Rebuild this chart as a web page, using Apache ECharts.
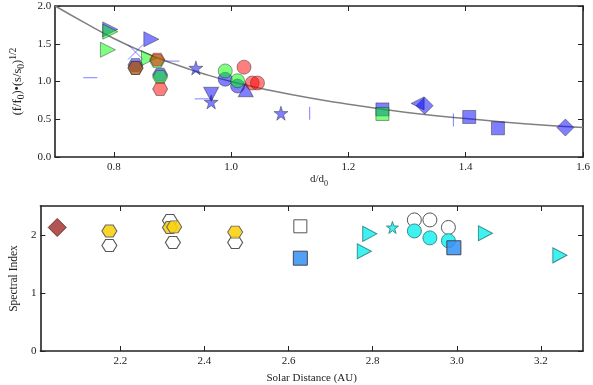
<!DOCTYPE html>
<html>
<head>
<meta charset="utf-8">
<script src="https://cdn.jsdelivr.net/npm/echarts@6/dist/echarts.min.js"></script>
<style>
  html, body { margin: 0; padding: 0; background: #fff; }
  #chart { width: 593px; height: 385px; }
</style>
</head>
<body>
<div id="chart"></div>
<script>
// top panel: normalised flux vs d/d0 (blue / green / red groups, half transparent)
var blueTriRight = [[0.794, 1.69], [0.864, 1.56]];
var blueCross = [[0.837, 1.39]];
var blueHex = [[0.837, 1.22], [0.879, 1.09]];
var blueHLine = [[0.76, 1.05], [0.90, 1.27], [0.95, 0.77]];
var blueStar = [[0.94, 1.18], [0.966, 0.73], [1.085, 0.58]];
var blueTriDown = [[0.966, 0.83]];
var blueCircle = [[0.99, 1.03], [1.011, 0.94]];
var blueTriUp = [[1.025, 0.89]];
var blueVLine = [[1.134, 0.58], [1.379, 0.49]];
var blueSquare = [[1.258, 0.63], [1.406, 0.53], [1.455, 0.38]];
var blueDiamond = [[1.33, 0.68], [1.57, 0.39]];
var blueTriLeft = [[1.318, 0.71]];

var greenTriRight = [[0.79, 1.42], [0.794, 1.66], [0.86, 1.31]];
var greenHex = [[0.874, 1.27], [0.837, 1.18], [0.879, 1.06]];
var greenCircle = [[0.99, 1.14], [1.011, 1.01]];
var greenSquare = [[1.258, 0.57]];

var redHex = [[0.874, 1.29], [0.837, 1.18], [0.879, 0.90]];
var redCircle = [[1.022, 1.19], [1.036, 0.98], [1.045, 0.98]];

// grey curve
var curveX = [0.70, 0.75, 0.80, 0.85, 0.90, 0.95, 1.00, 1.10, 1.20, 1.30, 1.40, 1.50, 1.60];
var curveY = [2.00, 1.78, 1.57, 1.39, 1.24, 1.11, 1.00, 0.83, 0.70, 0.59, 0.51, 0.44, 0.39];

// bottom panel: spectral index vs solar distance
var brownDiamond = [[2.05, 2.13]];
var openHex = [[2.174, 1.82], [2.318, 2.25], [2.325, 1.87], [2.473, 1.87]];
var yellowHex = [[2.174, 2.07], [2.318, 2.13], [2.328, 2.14], [2.473, 2.05]];
var openSquare = [[2.628, 2.15]];
var cyanTriRight = [[2.793, 2.02], [2.78, 1.72], [3.068, 2.03], [3.245, 1.65]];
var cyanStar = [[2.847, 2.13]];
var openCircle = [[2.899, 2.26], [2.936, 2.26], [2.98, 2.13]];
var cyanCircle = [[2.899, 2.07], [2.936, 1.95], [2.98, 1.90]];
var blueSquareB = [[2.628, 1.60], [2.993, 1.78]];

var topTicksX = [0.8, 1.0, 1.2, 1.4, 1.6];
var topTicksY = [0.0, 0.5, 1.0, 1.5, 2.0];
var botTicksX = [2.2, 2.4, 2.6, 2.8, 3.0, 3.2];
var botTicksY = [0, 1, 2];

var HEX = 'path://M0,50 L25,6 L75,6 L100,50 L75,94 L25,94 Z';
var STAR = 'path://M50,0 L61,35 L98,35 L68,57 L79,91 L50,70 L21,91 L32,57 L2,35 L39,35 Z';
var CROSS = 'path://M0,0 L100,100 M100,0 L0,100';

var BLUE = 'rgba(0,0,255,0.5)';
var GREEN = 'rgba(0,255,0,0.5)';
var RED = 'rgba(255,0,0,0.5)';
var EDGE = 'rgba(40,40,40,0.45)';
var FONT = 'Liberation Serif';

function sc(data, gi, sym, size, color, edge, rot, z) {
    return {
        type: 'scatter',
        xAxisIndex: gi * 2, yAxisIndex: gi * 2,
        data: data,
        symbol: sym,
        symbolSize: size,
        symbolRotate: rot || 0,
        z: z || 2,
        silent: true,
        itemStyle: { color: color, borderColor: edge, borderWidth: 1, opacity: 1 }
    };
}

function lbl(v, d) { return Number(v).toFixed(d); }

function nameStyle(fs) {
    return {
        fontFamily: FONT, fontSize: fs, color: '#222',
        rich: { sub: { fontFamily: FONT, fontSize: fs - 3, verticalAlign: 'bottom', color: '#222' },
                sup: { fontFamily: FONT, fontSize: fs - 3, verticalAlign: 'top', color: '#222' },
                n: { fontFamily: FONT, fontSize: fs, lineHeight: fs + 6, color: '#222' } }
    };
}

function axisX(gi, min, max, ticks, pos, show, dec, name, gap) {
    return {
        type: 'value', gridIndex: gi, min: min, max: max, position: pos,
        name: name || '', nameLocation: 'middle', nameGap: gap || 19,
        nameTextStyle: nameStyle(11),
        axisLine: { show: true, onZero: false, lineStyle: { color: '#222', width: 1.6 } },
        axisTick: { show: true, inside: true, length: 5, customValues: ticks, lineStyle: { color: '#222' } },
        axisLabel: { show: show, margin: 5, customValues: ticks, fontFamily: FONT, fontSize: 11, color: '#222',
                     formatter: function (v) { return lbl(v, dec); } },
        splitLine: { show: false }
    };
}

function axisY(gi, min, max, ticks, pos, show, dec, name, gap, fs) {
    return {
        type: 'value', gridIndex: gi, min: min, max: max, position: pos,
        name: name || '', nameLocation: 'middle', nameGap: gap || 20,
        nameTextStyle: nameStyle(fs || 11),
        axisLine: { show: true, onZero: false, lineStyle: { color: '#222', width: 1.6 } },
        axisTick: { show: true, inside: true, length: 5, customValues: ticks, lineStyle: { color: '#222' } },
        axisLabel: { show: show, margin: 4, customValues: ticks, fontFamily: FONT, fontSize: 11, color: '#222',
                     formatter: function (v) { return dec < 0 ? String(v) : lbl(v, dec); } },
        splitLine: { show: false }
    };
}

var curve = curveX.map(function (x, i) { return [x, curveY[i]]; });

var option = {
    animation: false,
    backgroundColor: '#fff',
    grid: [
        { left: 35, top: 6, width: 548, height: 151 },
        { left: 35, top: 206, width: 548, height: 151 }
    ],
    xAxis: [
        axisX(0, 0.7, 1.6, topTicksX, 'bottom', true, 1, '{n|d/d}{sub|0}', 14),
        axisX(0, 0.7, 1.6, topTicksX, 'top', false, 1),
        axisX(1, 2.01, 3.3, botTicksX, 'bottom', true, 1, '{n|Solar Distance (AU)}', 19),
        axisX(1, 2.01, 3.3, botTicksX, 'top', false, 1)
    ],
    yAxis: [
        axisY(0, 0, 2, topTicksY, 'left', true, 1, '{n|(f/f}{sub|0}{n|)•(s/s}{sub|0}{n|)}{sup|1/2}', 22, 12.5),
        axisY(0, 0, 2, topTicksY, 'right', false, 1),
        axisY(1, 0, 2.5, botTicksY, 'left', true, -1, '{n|Spectral Index}', 15, 11.5),
        axisY(1, 0, 2.5, botTicksY, 'right', false, -1)
    ],
    series: [
        {
            type: 'line', xAxisIndex: 0, yAxisIndex: 0, data: curve, smooth: true,
            symbol: 'none', silent: true, z: 1,
            lineStyle: { color: '#808080', width: 1.5 }
        },
        // blue group
        sc(blueTriRight, 0, 'triangle', [15, 15], BLUE, EDGE, -90, 2),
        sc(blueCross, 0, CROSS, [15, 15], 'transparent', BLUE, 0, 2),
        sc(blueHex, 0, HEX, [15, 13], BLUE, EDGE, 0, 2),
        sc(blueHLine, 0, 'rect', [14, 1], BLUE, 'transparent', 0, 2),
        sc(blueStar, 0, STAR, [14, 14], BLUE, EDGE, 0, 2),
        sc(blueTriDown, 0, 'triangle', [15, 14], BLUE, EDGE, 180, 2),
        sc(blueCircle, 0, 'circle', 14, BLUE, EDGE, 0, 2),
        sc(blueTriUp, 0, 'triangle', [15, 14], BLUE, EDGE, 0, 2),
        sc(blueVLine, 0, 'rect', [1, 13], BLUE, 'transparent', 0, 2),
        sc(blueSquare, 0, 'rect', [13, 13], BLUE, EDGE, 0, 2),
        sc(blueDiamond, 0, 'diamond', [17, 17], BLUE, EDGE, 0, 2),
        sc(blueTriLeft, 0, 'triangle', [13, 13], BLUE, EDGE, 90, 2),
        // green group
        sc(greenTriRight, 0, 'triangle', [15, 15], GREEN, EDGE, -90, 3),
        sc(greenHex, 0, HEX, [15, 13], GREEN, EDGE, 0, 3),
        sc(greenCircle, 0, 'circle', 14, GREEN, EDGE, 0, 3),
        sc(greenSquare, 0, 'rect', [13, 13], GREEN, EDGE, 0, 3),
        // red group
        sc(redHex, 0, HEX, [15, 13], RED, EDGE, 0, 4),
        sc(redCircle, 0, 'circle', 14, RED, EDGE, 0, 4),
        // bottom panel
        sc(brownDiamond, 1, 'diamond', [18, 18], '#b35452', '#6a3535', 0, 2),
        sc(openHex, 1, HEX, [15, 12], '#fff', '#555', 0, 2),
        sc(yellowHex, 1, HEX, [15, 12], 'rgba(250,210,20,0.9)', '#666', 0, 3),
        sc(openSquare, 1, 'rect', [13, 13], '#fff', '#555', 0, 2),
        sc(openCircle, 1, 'circle', 14, '#fff', '#555', 0, 2),
        sc(cyanTriRight, 1, 'triangle', [15, 14], '#3ff2f2', '#3a8f8f', -90, 3),
        sc(cyanStar, 1, STAR, [12, 12], '#3ff2f2', '#3a8f8f', 0, 3),
        sc(cyanCircle, 1, 'circle', 14, '#3ff2f2', '#3a8f8f', 0, 3),
        sc(blueSquareB, 1, 'rect', [14, 14], 'rgba(50,145,245,0.85)', '#445', 0, 4)
    ]
};

var chart = echarts.init(document.getElementById('chart'), null, { renderer: 'canvas' });
chart.setOption(option);
</script>
</body>
</html>
